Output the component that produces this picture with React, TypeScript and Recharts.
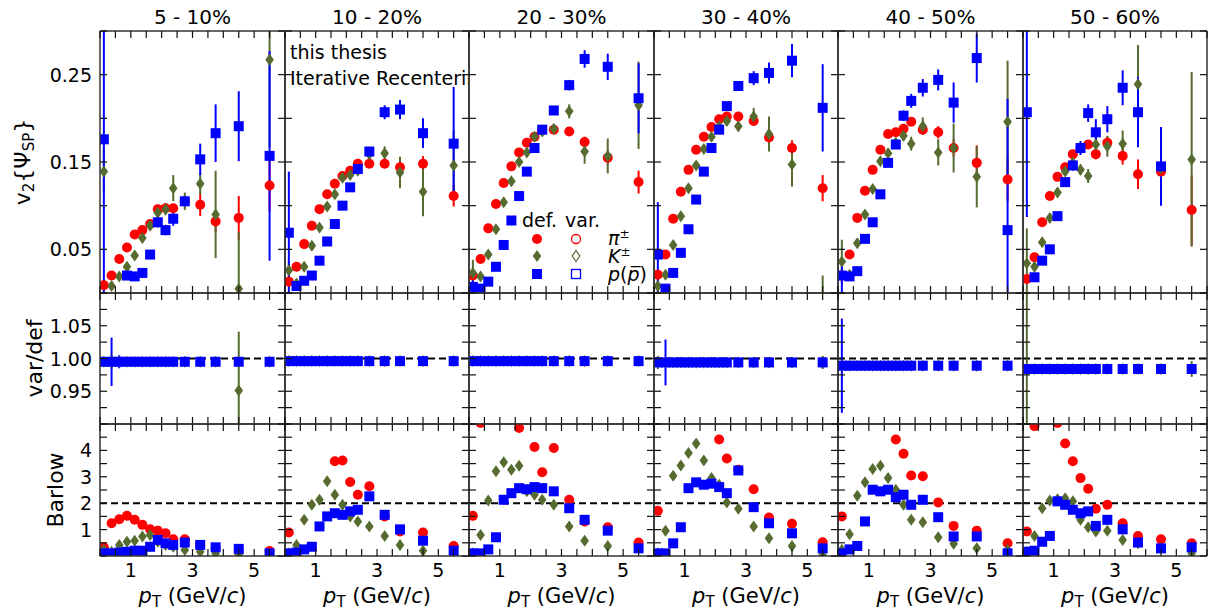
import React from "react";
import { ScatterChart, Scatter, XAxis, YAxis, ErrorBar, ReferenceLine, Legend } from "recharts";

const FONT = "DejaVu Sans";
const RED = "#ff0000";
const BLUE = "#0000ff";
const OLIVE = "#556b2f";

const centralities = ["5 - 10%", "10 - 20%", "20 - 30%", "30 - 40%", "40 - 50%", "50 - 60%"];
const pt = [0.125, 0.375, 0.625, 0.875, 1.125, 1.375, 1.625, 1.875, 2.125, 2.375, 2.75, 3.25, 3.75, 4.5, 5.5];
const xTicks = [0, 0.5, 1, 1.5, 2, 2.5, 3, 3.5, 4, 4.5, 5, 5.5, 6];
const xLabels = ["1", "3", "5"];

// v2{SP} per centrality (rows) and pT bin (columns)
const v2Pi = [
  [0.009, 0.02, 0.039, 0.052, 0.067, 0.072, 0.079, 0.096, 0.097, 0.097, 0.105, 0.101, 0.082, 0.086, 0.123],
  [0.013, 0.03, 0.056, 0.077, 0.096, 0.113, 0.125, 0.134, 0.14, 0.148, 0.148, 0.148, 0.144, 0.148, 0.111],
  [0.02, 0.039, 0.074, 0.102, 0.126, 0.145, 0.161, 0.172, 0.179, 0.187, 0.187, 0.185, 0.173, 0.155, 0.127],
  [0.021, 0.044, 0.085, 0.116, 0.141, 0.164, 0.179, 0.19, 0.199, 0.202, 0.202, 0.197, 0.178, 0.166, 0.12],
  [0.02, 0.044, 0.086, 0.117, 0.141, 0.164, 0.182, 0.184, 0.188, 0.196, 0.187, 0.184, 0.166, 0.149, 0.13],
  [0.016, 0.041, 0.081, 0.111, 0.133, 0.144, 0.159, 0.166, 0.17, 0.159, 0.172, 0.157, 0.136, 0.139, 0.095],
];
const v2PiErr = [
  [0.002, 0.002, 0.002, 0.002, 0.002, 0.002, 0.003, 0.003, 0.004, 0.005, 0.006, 0.013, 0.012, 0.025, 0.03],
  [0.002, 0.002, 0.002, 0.002, 0.002, 0.002, 0.002, 0.003, 0.003, 0.003, 0.004, 0.005, 0.007, 0.009, 0.012],
  [0.002, 0.002, 0.002, 0.002, 0.002, 0.002, 0.002, 0.003, 0.003, 0.003, 0.004, 0.005, 0.006, 0.008, 0.013],
  [0.002, 0.002, 0.002, 0.002, 0.002, 0.002, 0.002, 0.003, 0.003, 0.003, 0.004, 0.005, 0.007, 0.009, 0.015],
  [0.002, 0.002, 0.002, 0.002, 0.002, 0.003, 0.003, 0.003, 0.004, 0.004, 0.005, 0.007, 0.01, 0.02, 0.025],
  [0.003, 0.003, 0.003, 0.003, 0.003, 0.004, 0.004, 0.005, 0.005, 0.006, 0.007, 0.01, 0.017, 0.02, 0.04],
];
const v2K = [
  [0.139, 0.008, 0.019, 0.03, 0.043, 0.063, 0.077, 0.092, 0.096, 0.12, 0.105, 0.125, 0.09, 0.005, 0.267],
  [0.026, 0.011, 0.03, 0.054, 0.075, 0.099, 0.113, 0.132, 0.135, 0.14, 0.159, 0.16, 0.138, 0.116, 0.146],
  [0.023, 0.019, 0.044, 0.073, 0.104, 0.128, 0.15, 0.161, 0.179, 0.185, 0.188, 0.208, 0.162, 0.157, 0.215],
  [0.008, 0.021, 0.055, 0.088, 0.12, 0.146, 0.165, 0.179, 0.191, 0.197, 0.191, 0.202, 0.182, 0.147, -0.02],
  [0.036, 0.021, 0.057, 0.09, 0.119, 0.151, 0.16, 0.172, 0.18, 0.171, 0.191, 0.161, 0.166, 0.133, 0.196],
  [0.034, 0.03, 0.058, 0.086, 0.115, 0.139, 0.149, 0.141, 0.134, 0.17, 0.168, 0.171, 0.239, 0.143, 0.153],
];
const v2KErr = [
  [0.025, 0.003, 0.003, 0.003, 0.003, 0.004, 0.005, 0.006, 0.007, 0.015, 0.01, 0.012, 0.05, 0.065, 0.1],
  [0.01, 0.005, 0.003, 0.003, 0.003, 0.003, 0.004, 0.004, 0.005, 0.005, 0.008, 0.008, 0.018, 0.028, 0.04],
  [0.015, 0.004, 0.003, 0.003, 0.003, 0.003, 0.004, 0.004, 0.004, 0.005, 0.005, 0.008, 0.014, 0.02, 0.05],
  [0.008, 0.004, 0.003, 0.003, 0.003, 0.003, 0.004, 0.004, 0.005, 0.005, 0.006, 0.01, 0.02, 0.025, 0.04],
  [0.025, 0.005, 0.004, 0.004, 0.004, 0.004, 0.005, 0.005, 0.006, 0.008, 0.01, 0.015, 0.028, 0.035, 0.07],
  [0.04, 0.005, 0.004, 0.004, 0.005, 0.005, 0.006, 0.006, 0.008, 0.01, 0.012, 0.015, 0.045, 0.02, 0.1],
];
const v2P = [
  [0.176, null, null, 0.02, 0.019, 0.023, 0.044, 0.081, 0.072, 0.085, 0.105, 0.153, 0.183, 0.191, 0.157],
  [0.069, 0.008, 0.014, 0.02, 0.037, 0.059, 0.079, 0.1, 0.121, 0.142, 0.162, 0.207, 0.21, 0.183, 0.171],
  [0.007, 0.005, 0.013, 0.03, 0.055, 0.083, 0.111, 0.139, 0.166, 0.187, 0.209, 0.238, 0.268, 0.259, 0.223],
  [0.044, 0.005, 0.023, 0.046, 0.073, 0.107, 0.139, 0.166, 0.187, 0.214, 0.237, 0.246, 0.252, 0.266, 0.212],
  [0.02, 0.019, 0.025, 0.062, 0.081, 0.113, 0.149, 0.17, 0.203, 0.22, 0.235, 0.244, 0.218, 0.269, 0.072],
  [0.207, 0.018, 0.037, 0.05, 0.088, 0.127, 0.146, 0.166, 0.206, 0.184, 0.199, 0.235, 0.207, 0.145, null],
];
const v2PErr = [
  [0.18, 0, 0, 0.003, 0.003, 0.004, 0.005, 0.006, 0.006, 0.008, 0.006, 0.018, 0.033, 0.04, 0.12],
  [0.07, 0.003, 0.003, 0.003, 0.003, 0.003, 0.003, 0.004, 0.004, 0.004, 0.005, 0.008, 0.011, 0.017, 0.065],
  [0.01, 0.003, 0.003, 0.003, 0.003, 0.003, 0.003, 0.004, 0.004, 0.004, 0.005, 0.006, 0.01, 0.015, 0.04],
  [0.06, 0.003, 0.003, 0.003, 0.003, 0.003, 0.003, 0.004, 0.004, 0.004, 0.005, 0.008, 0.012, 0.019, 0.05],
  [0.02, 0.003, 0.003, 0.003, 0.004, 0.004, 0.004, 0.005, 0.006, 0.008, 0.01, 0.012, 0.023, 0.028, 0.15],
  [0.12, 0.005, 0.004, 0.004, 0.005, 0.005, 0.006, 0.008, 0.01, 0.015, 0.015, 0.02, 0.04, 0.045, 0],
];

// var/def ratio
const ratioK = [
  [0.995, 0.995, 0.995, 0.995, 0.995, 0.995, 0.995, 0.995, 0.995, 0.995, 0.995, 0.995, 0.995, 0.951, 0.995],
  [0.996, 0.996, 0.996, 0.996, 0.996, 0.996, 0.996, 0.996, 0.996, 0.996, 0.996, 0.996, 0.996, 0.996, 0.996],
  [0.996, 0.996, 0.996, 0.996, 0.996, 0.996, 0.996, 0.996, 0.996, 0.996, 0.996, 0.996, 0.996, 0.996, 0.996],
  [0.994, 0.994, 0.994, 0.994, 0.994, 0.994, 0.994, 0.994, 0.994, 0.994, 0.994, 0.994, 0.994, 0.994, 0.994],
  [0.989, 0.989, 0.989, 0.989, 0.989, 0.989, 0.989, 0.989, 0.989, 0.989, 0.989, 0.989, 0.989, 0.989, 0.989],
  [0.984, 0.984, 0.984, 0.984, 0.984, 0.984, 0.984, 0.984, 0.984, 0.984, 0.984, 0.984, 0.984, 0.984, 0.984],
];
const ratioKErr = [
  [0.004, 0.01, 0.005, 0.003, 0.003, 0.003, 0.003, 0.003, 0.003, 0.003, 0.003, 0.003, 0.004, 0.09, 0.005],
  [0.004, 0.004, 0.003, 0.003, 0.003, 0.003, 0.003, 0.003, 0.003, 0.003, 0.003, 0.003, 0.003, 0.004, 0.005],
  [0.005, 0.004, 0.003, 0.003, 0.003, 0.003, 0.003, 0.003, 0.003, 0.003, 0.003, 0.003, 0.003, 0.004, 0.006],
  [0.01, 0.005, 0.003, 0.003, 0.003, 0.003, 0.003, 0.003, 0.003, 0.003, 0.003, 0.003, 0.004, 0.005, 0.01],
  [0.006, 0.004, 0.003, 0.003, 0.003, 0.003, 0.003, 0.003, 0.003, 0.003, 0.003, 0.003, 0.004, 0.005, 0.006],
  [0.2, 0.004, 0.003, 0.003, 0.003, 0.003, 0.003, 0.003, 0.003, 0.003, 0.003, 0.004, 0.004, 0.005, 0.012],
];
const ratioP = [
  [0.995, 0.995, 0.995, 0.995, 0.995, 0.995, 0.995, 0.995, 0.995, 0.995, 0.995, 0.995, 0.995, 0.995, 0.995],
  [0.996, 0.996, 0.996, 0.996, 0.996, 0.996, 0.996, 0.996, 0.996, 0.996, 0.996, 0.996, 0.996, 0.996, 0.996],
  [0.996, 0.996, 0.996, 0.996, 0.996, 0.996, 0.996, 0.996, 0.996, 0.996, 0.996, 0.996, 0.996, 0.996, 0.996],
  [0.994, 0.994, 0.994, 0.994, 0.994, 0.994, 0.994, 0.994, 0.994, 0.994, 0.994, 0.994, 0.994, 0.994, 0.994],
  [0.989, 0.989, 0.989, 0.989, 0.989, 0.989, 0.989, 0.989, 0.989, 0.989, 0.989, 0.989, 0.989, 0.989, 0.989],
  [0.984, 0.984, 0.984, 0.984, 0.984, 0.984, 0.984, 0.984, 0.984, 0.984, 0.984, 0.984, 0.984, 0.984, 0.984],
];
const ratioPErr = [
  [0, 0.037, 0.01, 0, 0, 0, 0, 0, 0, 0, 0, 0, 0, 0, 0],
  [0, 0, 0, 0, 0, 0, 0, 0, 0, 0, 0, 0, 0, 0, 0],
  [0, 0, 0, 0, 0, 0, 0, 0, 0, 0, 0, 0, 0, 0, 0],
  [0, 0.035, 0, 0, 0, 0, 0, 0, 0, 0, 0, 0, 0, 0, 0],
  [0.072, 0, 0, 0, 0, 0, 0, 0, 0, 0, 0, 0, 0, 0, 0],
  [0, 0, 0, 0, 0, 0, 0, 0, 0, 0, 0, 0, 0, 0, 0],
];

// Barlow check
const barlowPi = [
  [0.33, 1.24, 1.39, 1.52, 1.37, 1.18, 1.01, 0.96, 0.86, 0.63, 0.63, 0.42, 0.29, 0.16, 0.19],
  [0.89, null, null, null, null, null, 3.59, 3.62, 2.8, 2.32, 2.64, 1.5, 0.93, 0.89, 0.38],
  [1.52, 5.04, null, null, null, null, 4.85, null, 4.13, 3.17, 4.09, 2.13, 1.31, 1.09, 0.51],
  [1.71, null, null, null, null, null, null, null, 4.41, 3.69, 3.27, 2.53, 1.46, 1.22, 0.52],
  [1.5, null, null, null, null, null, null, 4.41, 3.87, 3.05, 3.02, 2.03, 1.14, 0.96, 0.48],
  [0.93, 4.92, null, null, 5.04, 4.26, 3.59, 2.95, 2.55, 1.79, 1.94, 1.24, 0.76, 0.63, 0.48],
];
const barlowK = [
  [0.23, 0.16, 0.42, 0.54, 0.58, 0.74, 0.8, 0.54, 0.42, 0.35, 0.23, 0.16, 0.1, 0.06, null],
  [0.1, 0.42, 1.37, 1.94, 2.13, 2.83, 2.32, 1.94, 1.5, 1.31, 1.12, 0.76, 0.42, 0.2, null],
  [0.1, 0.8, 2.1, 3.21, 3.55, 3.27, 3.42, 2.45, 2.32, 2.13, 1.94, 1.12, 0.58, 0.38, null],
  [0.1, 0.96, 3.04, 3.43, 3.9, 4.26, 3.62, 2.95, 2.7, 2.03, 1.79, 1.12, 0.67, 0.38, 0.04],
  [0.23, 0.82, 2.28, 2.79, 3.3, 3.42, 2.95, 2.51, 1.94, 1.37, 1.28, 0.71, 0.46, 0.29, 0.23],
  [0.16, 0.76, 1.81, 2.1, 2.15, 2.19, 2.07, 1.37, 1.09, 0.93, 0.96, 0.61, 0.48, 0.29, 0.1],
];
const barlowP = [
  [0.1, 0.1, 0.13, 0.16, 0.2, 0.2, 0.35, 0.61, 0.48, 0.42, 0.51, 0.42, 0.33, 0.27, 0.1],
  [0.1, 0.13, 0.25, 0.35, 1.12, 1.5, 1.62, 1.56, 1.69, 1.75, 2.26, 1.56, 1.01, 0.58, 0.2],
  [0.1, 0.1, 0.25, 0.71, 2.13, 2.38, 2.57, 2.53, 2.61, 2.57, 2.45, 1.81, 1.37, 0.96, 0.29],
  [0.1, 0.1, 0.48, 1.09, 2.57, 2.79, 2.7, 2.74, 2.61, 2.38, 3.24, 1.85, 1.24, 0.86, 0.29],
  [0.1, 0.25, 0.38, 1.31, 2.51, 2.45, 2.51, 2.23, 2.32, 1.94, 2.13, 1.47, 0.74, 0.74, 0.1],
  [0.16, 0.2, 0.54, 0.76, 2.07, 1.94, 1.75, 1.62, 1.69, 1.14, 1.37, 1.01, 0.51, 0.29, 0.33],
];

const rows = [
  { top: 31, h: 262, domain: [0, 0.3], ticks: [0, 0.05, 0.1, 0.15, 0.2, 0.25, 0.3], labels: ["0.05", "0.15", "0.25"], digits: 2, ref: null },
  { top: 293, h: 131, domain: [0.9, 1.1], ticks: [0.9, 0.925, 0.95, 0.975, 1, 1.025, 1.05, 1.075, 1.1], labels: ["0.95", "1.00", "1.05"], digits: 2, ref: 1 },
  { top: 424, h: 132, domain: [0, 5], ticks: [0, 0.5, 1, 1.5, 2, 2.5, 3, 3.5, 4, 4.5, 5], labels: ["1", "2", "3", "4"], digits: -1, ref: 2 },
];

const colEdge = (c: number) => Math.round(100 + c * 184.5);
const TICK = 7;
const TICK_COLOR = "#111";

const points = (vals: (number | null)[], errs?: number[]) =>
  pt.map((x, i) => ({ x, y: vals[i], e: errs ? errs[i] : 0 })).filter((p) => p.y !== null);

const Dot = (p: any) => <circle cx={p.cx} cy={p.cy} r={5} fill={RED} />;
const Square = (p: any) => <rect x={p.cx - 5} y={p.cy - 5} width={10} height={10} fill={BLUE} />;
const Diamond = (p: any) => (
  <polygon points={`${p.cx},${p.cy - 6} ${p.cx + 4.3},${p.cy} ${p.cx},${p.cy + 6} ${p.cx - 4.3},${p.cy}`} fill={OLIVE} />
);
const Empty = () => <g />;

function seriesFor(row: number, c: number) {
  if (row === 0)
    return [
      { data: points(v2Pi[c], v2PiErr[c]), color: RED, shape: Dot, err: true },
      { data: points(v2K[c], v2KErr[c]), color: OLIVE, shape: Diamond, err: true },
      { data: points(v2P[c], v2PErr[c]), color: BLUE, shape: Square, err: true },
    ];
  if (row === 1)
    return [
      { data: points(ratioK[c], ratioKErr[c]), color: OLIVE, shape: Diamond, err: true },
      { data: points(ratioP[c], ratioPErr[c]), color: BLUE, shape: Square, err: true },
    ];
  return [
    { data: points(barlowPi[c]), color: RED, shape: Dot, err: false },
    { data: points(barlowK[c]), color: OLIVE, shape: Diamond, err: false },
    { data: points(barlowP[c]), color: BLUE, shape: Square, err: false },
  ];
}

// inward tick marks, labels outside
const BottomTick = (p: any) => {
  const v = String(p.payload.value);
  return (
    <g>
      <line x1={p.x} y1={p.y} x2={p.x} y2={p.y - TICK} stroke={TICK_COLOR} strokeWidth={1.2} />
      {p.labeled && xLabels.includes(v) && (
        <text x={p.x} y={p.y + 21} textAnchor="middle" fontSize={19} fontFamily={FONT} fill="#000">
          {v}
        </text>
      )}
    </g>
  );
};
const TopTick = (p: any) => <line x1={p.x} y1={p.y} x2={p.x} y2={p.y + TICK} stroke={TICK_COLOR} strokeWidth={1.2} />;
const RightTick = (p: any) => <line x1={p.x} y1={p.y} x2={p.x - TICK} y2={p.y} stroke={TICK_COLOR} strokeWidth={1.2} />;
const LeftTick = (p: any) => {
  const r = rows[p.row];
  const v = p.payload.value as number;
  const s = r.digits >= 0 ? v.toFixed(r.digits) : String(v);
  return (
    <g>
      <line x1={p.x} y1={p.y} x2={p.x + TICK} y2={p.y} stroke={TICK_COLOR} strokeWidth={1.2} />
      {p.labeled && r.labels.includes(s) && (
        <text x={p.x - 8} y={p.y + 7} textAnchor="end" fontSize={19} fontFamily={FONT} fill="#000">
          {s}
        </text>
      )}
    </g>
  );
};

const ColTitle = ({ viewBox, text }: any) => (
  <text x={viewBox.x + viewBox.width / 2} y={24} textAnchor="middle" fontSize={20} fontFamily={FONT} fill="#000">
    {text}
  </text>
);

const XTitle = ({ viewBox }: any) => (
  <text x={viewBox.x + viewBox.width / 2} y={viewBox.y + 47} textAnchor="middle" fontSize={21} fontFamily={FONT} fill="#000">
    <tspan fontStyle="italic">p</tspan>
    <tspan fontSize={15} dy={4}>T</tspan>
    <tspan dy={-4}> (GeV/</tspan>
    <tspan fontStyle="italic">c</tspan>
    <tspan>)</tspan>
  </text>
);

const yTitleX = [30, 42, 63];
const YTitle = ({ viewBox, row }: any) => {
  const x = yTitleX[row];
  const y = viewBox.y + viewBox.height / 2;
  return (
    <text x={x} y={y} transform={`rotate(-90, ${x}, ${y})`} textAnchor="middle" fontSize={22} fontFamily={FONT} fill="#000">
      {row === 0 && (
        <>
          <tspan>v</tspan>
          <tspan fontSize={15} dy={4}>2</tspan>
          <tspan dy={-4}>{"{\u03A8"}</tspan>
          <tspan fontSize={15} dy={4}>SP</tspan>
          <tspan dy={-4}>{"}"}</tspan>
        </>
      )}
      {row === 1 && "var/def"}
      {row === 2 && "Barlow"}
    </text>
  );
};

const LegendBox = () => (
  <svg width={150} height={85} style={{ fontFamily: FONT }}>
    <text x={12} y={22} fontSize={19}>def.</text>
    <text x={55} y={22} fontSize={19}>var.</text>
    <circle cx={27} cy={34} r={5} fill={RED} />
    <circle cx={66} cy={34} r={4.5} fill="#fff" stroke={RED} strokeWidth={1.3} />
    <text x={98} y={40} fontSize={19}>
      <tspan fontStyle="italic">{"\u03C0"}</tspan>
      <tspan fontSize={12} dy={-7}>±</tspan>
    </text>
    <polygon points="27,45 31.3,51 27,57 22.7,51" fill={OLIVE} />
    <polygon points="66,45.5 69.8,51 66,56.5 62.2,51" fill="#fff" stroke={OLIVE} strokeWidth={1.2} />
    <text x={98} y={58} fontSize={19}>
      <tspan fontStyle="italic">K</tspan>
      <tspan fontSize={12} dy={-7}>±</tspan>
    </text>
    <rect x={22} y={64} width={10} height={10} fill={BLUE} />
    <rect x={61.5} y={64.5} width={9} height={9} fill="#fff" stroke={BLUE} strokeWidth={1.3} />
    <text x={98} y={76} fontSize={19}>
      <tspan fontStyle="italic">p</tspan>
      <tspan>(</tspan>
      <tspan fontStyle="italic">{"p\u0305"}</tspan>
      <tspan>)</tspan>
    </text>
  </svg>
);

const frame = { stroke: "#333", strokeWidth: 1.5 };

function Panel({ col, row }: { col: number; row: number }) {
  const r = rows[row];
  const x0 = colEdge(col);
  const plotW = colEdge(col + 1) - x0;
  const leftW = col === 0 ? 100 : 1;
  const topH = row === 0 ? 31 : 1;
  const bottomH = row === 2 ? 58 : 1;
  const series = seriesFor(row, col);
  return (
    <>
      {/* data layer, clipped to the plot frame */}
      <div style={{ position: "absolute", left: x0, top: r.top, width: plotW, height: r.h, overflow: "hidden" }}>
        <ScatterChart width={plotW} height={r.h} margin={{ top: 0, right: 0, bottom: 0, left: 0 }}>
          <XAxis xAxisId="b" type="number" dataKey="x" domain={[0, 6]} allowDataOverflow hide />
          <YAxis yAxisId="l" type="number" dataKey="y" domain={r.domain} allowDataOverflow hide />
          {r.ref !== null && (
            <ReferenceLine xAxisId="b" yAxisId="l" y={r.ref} stroke="#000" strokeWidth={2} strokeDasharray="7 4" />
          )}
          {series.map((s, i) => (
            <Scatter key={i} xAxisId="b" yAxisId="l" data={s.data} fill={s.color} shape={s.shape} isAnimationActive={false}>
              {s.err && <ErrorBar dataKey="e" direction="y" width={0} stroke={s.color} strokeWidth={2} />}
            </Scatter>
          ))}
          {row === 0 && col === 2 && (
            <Legend
              content={() => <LegendBox />}
              layout="horizontal"
              verticalAlign="middle"
              align="center"
              wrapperStyle={{ left: 41, top: 174, width: 150, height: 85 }}
            />
          )}
        </ScatterChart>
      </div>
      {/* frame, ticks and labels; invisible series keep every axis bound */}
      <div style={{ position: "absolute", left: x0 - leftW, top: r.top - topH }}>
        <ScatterChart width={leftW + plotW + 1} height={topH + r.h + bottomH} margin={{ top: 0, right: 0, bottom: 0, left: 0 }}>
          <XAxis
            xAxisId="b"
            type="number"
            dataKey="x"
            orientation="bottom"
            height={bottomH}
            domain={[0, 6]}
            ticks={xTicks}
            interval={0}
            allowDataOverflow
            tickSize={0}
            tickMargin={0}
            tickLine={false}
            tick={(p: any) => <BottomTick {...p} labeled={row === 2} />}
            axisLine={frame}
            label={row === 2 ? <XTitle /> : undefined}
          />
          <XAxis
            xAxisId="t"
            type="number"
            dataKey="x"
            orientation="top"
            height={topH}
            domain={[0, 6]}
            ticks={xTicks}
            interval={0}
            allowDataOverflow
            tickSize={0}
            tickMargin={0}
            tickLine={false}
            tick={(p: any) => <TopTick {...p} />}
            axisLine={frame}
            label={row === 0 ? <ColTitle text={centralities[col]} /> : undefined}
          />
          <YAxis
            yAxisId="l"
            type="number"
            dataKey="y"
            orientation="left"
            width={leftW}
            domain={r.domain}
            ticks={r.ticks}
            interval={0}
            allowDataOverflow
            tickSize={0}
            tickMargin={0}
            tickLine={false}
            tick={(p: any) => <LeftTick {...p} row={row} labeled={col === 0} />}
            axisLine={frame}
            label={col === 0 ? <YTitle row={row} /> : undefined}
          />
          <YAxis
            yAxisId="r"
            type="number"
            dataKey="y"
            orientation="right"
            width={1}
            domain={r.domain}
            ticks={r.ticks}
            interval={0}
            allowDataOverflow
            tickSize={0}
            tickMargin={0}
            tickLine={false}
            tick={(p: any) => <RightTick {...p} />}
            axisLine={frame}
          />
          <Scatter xAxisId="b" yAxisId="l" data={series[0].data} shape={Empty} isAnimationActive={false} />
          <Scatter xAxisId="t" yAxisId="r" data={series[0].data} shape={Empty} isAnimationActive={false} />
        </ScatterChart>
      </div>
    </>
  );
}

export default function App() {
  return (
    <div style={{ position: "absolute", left: 0, top: 0, width: 1211, height: 614, background: "#fff", overflow: "hidden" }}>
      {[0, 1, 2].map((row) => [0, 1, 2, 3, 4, 5].map((col) => <Panel key={`${row}-${col}`} col={col} row={row} />))}
      <div
        style={{
          position: "absolute",
          left: 290,
          top: 39,
          width: 178,
          overflow: "hidden",
          whiteSpace: "nowrap",
          fontFamily: FONT,
          fontSize: 19,
          lineHeight: "26px",
          color: "#000",
        }}
      >
        <div>this thesis</div>
        <div>Iterative Recentering</div>
      </div>
    </div>
  );
}
